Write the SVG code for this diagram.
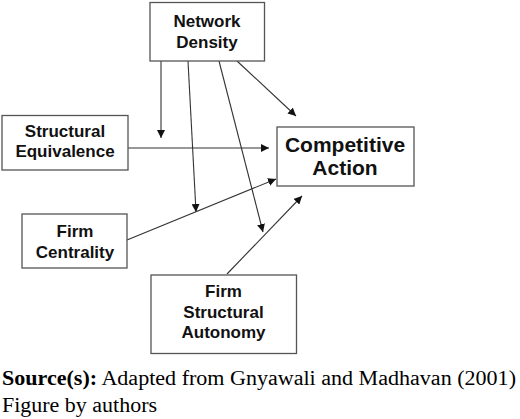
<svg xmlns="http://www.w3.org/2000/svg" width="520" height="419" viewBox="0 0 520 419">
<style>
.box{fill:#fff;stroke:#555;stroke-width:1.3}
.lbl{font-family:"Liberation Sans",Arial,sans-serif;font-weight:bold;font-size:17px;fill:#111;text-anchor:middle}
.big{font-size:21px}
.cn line{stroke:#333;stroke-width:1.1;marker-end:url(#ah)}
.cap{font-family:"Liberation Serif","Times New Roman",serif;font-size:20px;fill:#000}
</style>
<defs>
<marker id="ah" viewBox="0 0 10 10" refX="10" refY="5" markerWidth="8" markerHeight="8" markerUnits="userSpaceOnUse" orient="auto">
<path d="M0,0 L10,5 L0,10 z" fill="#111"/>
</marker>
</defs>
<rect width="520" height="419" fill="#fff"/>
<g class="cn">
<line x1="161" y1="61" x2="161" y2="138"/>
<line x1="188" y1="61" x2="196" y2="212"/>
<line x1="219" y1="61" x2="263" y2="232"/>
<line x1="237" y1="61" x2="296" y2="116"/>
<line x1="128" y1="148" x2="269" y2="148"/>
<line x1="127" y1="240" x2="276" y2="179"/>
<line x1="227" y1="274" x2="302" y2="196"/>
</g>
<g id="network-density">
<rect class="box" x="150" y="2.5" width="114.5" height="58.5"/>
<text class="lbl" x="207" y="26.5">Network</text>
<text class="lbl" x="207" y="48">Density</text>
</g>
<g id="structural-equivalence">
<rect class="box" x="2" y="115.5" width="126" height="54.5"/>
<text class="lbl" x="65" y="136.5">Structural</text>
<text class="lbl" x="65" y="156.5">Equivalence</text>
</g>
<g id="competitive-action">
<rect class="box" x="277" y="127" width="137" height="59"/>
<text class="lbl big" x="345" y="151.5">Competitive</text>
<text class="lbl big" x="345" y="175">Action</text>
</g>
<g id="firm-centrality">
<rect class="box" x="22" y="214" width="105" height="54"/>
<text class="lbl" x="75" y="236.5">Firm</text>
<text class="lbl" x="75" y="258">Centrality</text>
</g>
<g id="firm-structural-autonomy">
<rect class="box" x="151" y="275" width="145.5" height="78.5"/>
<text class="lbl" x="223.5" y="296.5">Firm</text>
<text class="lbl" x="223.5" y="317.5">Structural</text>
<text class="lbl" x="223.5" y="338">Autonomy</text>
</g>
<g id="caption">
<text class="cap" x="2" y="385" textLength="514" lengthAdjust="spacingAndGlyphs"><tspan font-weight="bold">Source(s):</tspan> Adapted from Gnyawali and Madhavan (2001)</text>
<text class="cap" x="2" y="412" textLength="155" lengthAdjust="spacingAndGlyphs">Figure by authors</text>
</g>
</svg>
